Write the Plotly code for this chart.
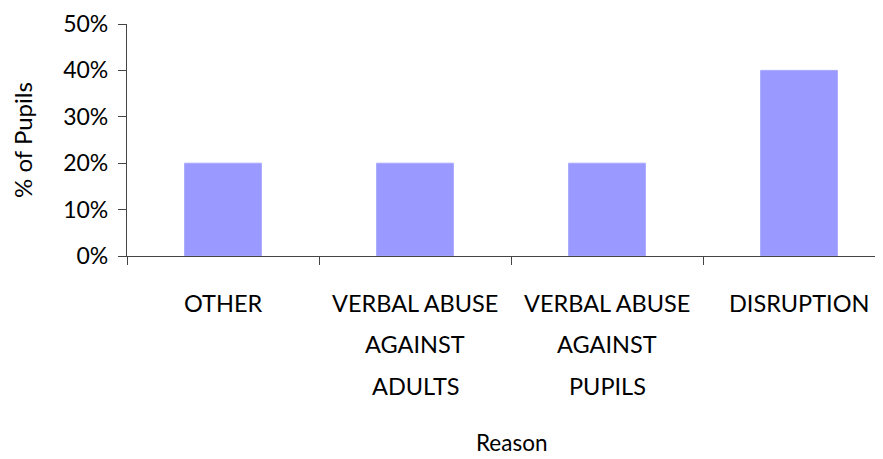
import plotly.graph_objects as go

categories = ["OTHER", "VERBAL ABUSE<br>AGAINST<br>ADULTS", "VERBAL ABUSE<br>AGAINST<br>PUPILS", "DISRUPTION"]
values = [20, 20, 20, 40]
y_ticks = [0, 10, 20, 30, 40, 50]
y_tick_labels = ["0%", "10%", "20%", "30%", "40%", "50%"]
x_title = "Reason"
y_title = "% of Pupils"

FONT = "Lato, 'Open Sans', sans-serif"
FS = 23
OFF = 8  # page body margin
W, H = 883 - OFF, 459 - OFF
ML, MT = 127 - OFF, 23.5 - OFF
MB = H - (256.3 - OFF)
MR = 0
plot_h = H - MT - MB

def py(p):
    # window pixel row -> paper y
    return (H - MB - (p - OFF)) / plot_h

fig = go.Figure(go.Bar(
    x=categories, y=values,
    marker=dict(color="#9999FF", line=dict(color="#A8A8FF", width=1)),
    width=0.4,
))

annotations = []
line_rows = [303, 345, 387]
for cat in categories:
    for i, line in enumerate(cat.split("<br>")):
        annotations.append(dict(
            x=cat, xref="x", y=py(line_rows[i]), yref="paper",
            text=line, showarrow=False, xanchor="center", yanchor="middle",
            font=dict(family=FONT, size=FS + 0.5, color="black"),
        ))
annotations.append(dict(
    x=1.5, xref="x", y=py(443), yref="paper", text=x_title, showarrow=False,
    xanchor="center", yanchor="middle", borderpad=0,
    font=dict(family=FONT, size=FS - 0.5, color="black"),
))

fig.update_layout(
    width=W, height=H,
    margin=dict(l=ML, r=MR, t=MT, b=MB, autoexpand=False),
    paper_bgcolor="white", plot_bgcolor="white",
    showlegend=False,
    annotations=annotations,
    xaxis=dict(
        type="category", range=[-0.5, 3.4375], automargin=False,
        showticklabels=False, tickson="boundaries",
        ticks="outside", ticklen=8, tickcolor="#444", tickwidth=1.3,
        showline=True, linecolor="#444", linewidth=1.3,
        showgrid=False, zeroline=False,
    ),
    yaxis=dict(
        range=[0, 50], tickvals=y_ticks, ticktext=y_tick_labels, automargin=False,
        ticks="outside", ticklen=8, tickcolor="#444", tickwidth=1.3,
        showline=True, linecolor="#444", linewidth=1.3,
        showgrid=False, zeroline=False, ticklabelstandoff=5,
        tickfont=dict(family=FONT, size=FS, color="black"),
        title=dict(text=y_title, font=dict(family=FONT, size=FS + 1, color="black"), standoff=24),
    ),
)

fig.write_html("out.html")
